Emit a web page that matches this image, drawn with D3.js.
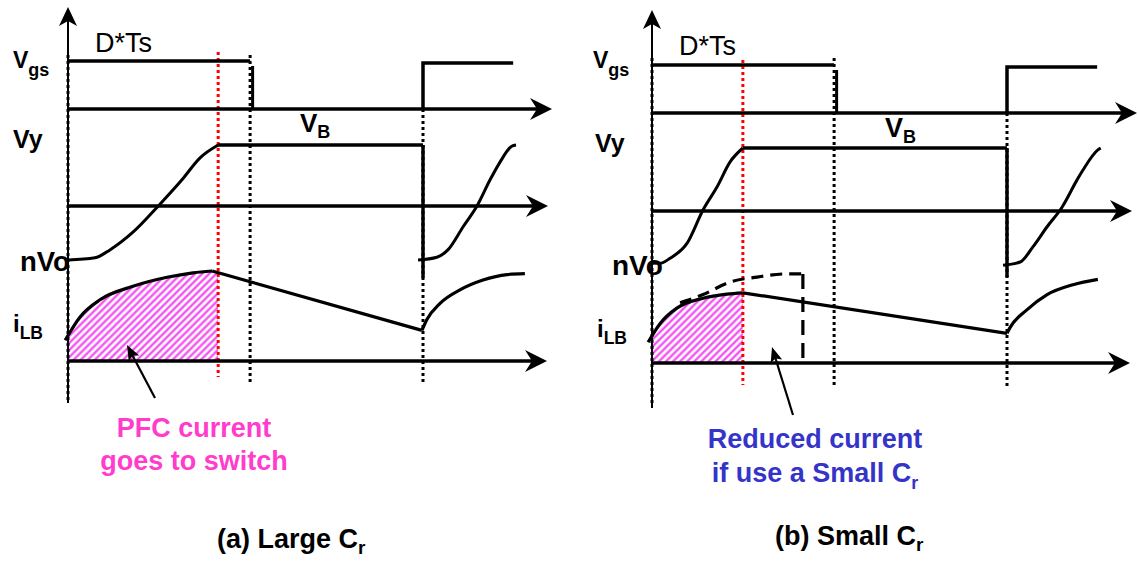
<!DOCTYPE html>
<html><head><meta charset="utf-8">
<script src="https://cdn.jsdelivr.net/npm/d3@7"></script>
<style>
body{margin:0;background:#fff}
svg{display:block}
text{font-family:"Liberation Sans",Arial,Helvetica,sans-serif}
</style>
</head><body>
<svg id="c" width="1138" height="561"></svg>
<script>
// Time runs in units where one switching period Ts = 10.
const period = 10;
const dutyEnd = 5.13;                 // gate turn-off, D*Ts
const vyClamp = [4.23, 2.56];         // instant Vy reaches VB: (a) large Cr, (b) small Cr

// Gate drive (1 = high)
const vgsA = [[0,1],[5.13,1]];
const vgsNextA = [[10,0],[10,0.96],[12.54,0.96]];
const vgsB = [[0,1],[5.13,1]];
const vgsNextB = [[10,0],[10,0.96],[12.54,0.96]];

// Vy (0 = axis, 1 = VB)
const vyRiseA = [[0,-0.885],[0.76,-0.85],[1.18,-0.72],[1.83,-0.43],[2.59,0.03],[3.21,0.43],[3.72,0.79],[4.23,1.0]];
const vyFlatA = [[4.23,1.0],[10,1.0]];
const vyDropA = [[10,1.0],[10,-1.18]];
const vyNextA = [[9.86,-0.885],[10.39,-0.84],[10.7,-0.72],[11.13,-0.34],[11.52,0],[11.89,0.43],[12.17,0.72],[12.5,0.98],[12.62,1.0]];

const vyRiseB = [[0,-0.825],[0.23,-0.83],[0.51,-0.75],[0.99,-0.51],[1.44,0.02],[1.83,0.38],[2.2,0.78],[2.56,1.0]];
const vyFlatB = [[2.56,1.0],[10,1.0]];
const vyDropB = [[10,1.0],[10,-1.05]];
const vyNextB = [[9.89,-0.86],[10.37,-0.81],[10.73,-0.57],[11.13,-0.25],[11.55,0.06],[11.97,0.49],[12.14,0.65],[12.56,0.97],[12.64,1.0]];

// Boost inductor current iLB (0 = axis)
const iRiseA = [[-0.08,0.23],[0.34,0.49],[0.9,0.68],[1.83,0.83],[2.79,0.93],[3.52,0.98],[4.06,1.0]];
const iFallA = [[4.06,1.0],[9.97,0.34]];
const iNextA = [[9.97,0.34],[10.11,0.46],[10.48,0.64],[11.04,0.79],[11.69,0.9],[12.37,0.96],[12.87,0.97]];

const iRiseB = [[-0.11,0.23],[0.23,0.44],[0.7,0.61],[1.44,0.72],[2.11,0.765],[2.56,0.78]];
const iFallB = [[2.56,0.78],[10,0.33]];
const iNextB = [[10,0.33],[10.08,0.39],[10.56,0.59],[11.13,0.76],[11.86,0.87],[12.56,0.93]];
// large-Cr current repeated in (b) for reference, ending at 4.25
const iLargeCrB = [[0.79,0.67],[1.44,0.76],[2.2,0.9],[2.96,0.955],[3.8,0.99],[4.25,0.99]];

const svg = d3.select('#c');
const defs = svg.append('defs');

// magenta hatch for the current that flows into the switch
const pat = defs.append('pattern').attr('id','hatch')
  .attr('patternUnits','userSpaceOnUse').attr('width',5).attr('height',5)
  .attr('patternTransform','rotate(45)');
pat.append('rect').attr('width',5).attr('height',5).attr('fill','#fff');
pat.append('line').attr('x1',1.5).attr('y1',0).attr('x2',1.5).attr('y2',5)
  .attr('stroke','#f23cf2').attr('stroke-width',2.1);

const panels = [
  {
    x0:68, periodPx:355, yTop:7, yBottom:403,
    vgsHi:61, vgsLo:109, vyZero:206, vyTop:145, iZero:361, iTop:271,
    axisEnd:[552,548,547], dotTop:55, redTop:52, redBottom:377, dotBottom:382,
    vgs:vgsA, vgsNext:vgsNextA, vyRise:vyRiseA, vyFlat:vyFlatA, vyDrop:vyDropA, vyNext:vyNextA,
    iRise:iRiseA, iFall:iFallA, iNext:iNextA, clamp:vyClamp[0],
    labels:{vgs:[13,68], dts:[95,52], vb:[300,132], vy:[13,148], nvo:[20,271], ilb:[13,332], nvoSize:27.5, vbSize:26},
    arrow:{from:[155,398], to:[127,345]}
  },
  {
    x0:652, periodPx:355, yTop:10, yBottom:408,
    vgsHi:65, vgsLo:113, vyZero:211, vyTop:148, iZero:363, iTop:273,
    axisEnd:[1137,1132,1130], dotTop:58, redTop:60, redBottom:385, dotBottom:387,
    vgs:vgsB, vgsNext:vgsNextB, vyRise:vyRiseB, vyFlat:vyFlatB, vyDrop:vyDropB, vyNext:vyNextB,
    iRise:iRiseB, iFall:iFallB, iNext:iNextB, clamp:vyClamp[1], dashed:iLargeCrB,
    labels:{vgs:[593,68], dts:[679,55], vb:[885,137], vy:[595,152], nvo:[612,275], ilb:[597,337], nvoSize:28, vbSize:27},
    arrow:{from:[793,415], to:[772,347]}
  }
];

function arrowHead(g, tipX, tipY, angle, len, half, notch){
  g.append('path')
    .attr('d',`M0,0L${-len},${-half}L${-len+notch},0L${-len},${half}Z`)
    .attr('transform',`translate(${tipX},${tipY}) rotate(${angle})`)
    .attr('fill','#000');
}

function drawPanel(p, k){
  const g = svg.append('g');
  const x = d3.scaleLinear().domain([0,period]).range([p.x0, p.x0+p.periodPx]);
  const yG = d3.scaleLinear().domain([0,1]).range([p.vgsLo, p.vgsHi]);
  const yV = d3.scaleLinear().domain([0,1]).range([p.vyZero, p.vyTop]);
  const yI = d3.scaleLinear().domain([0,1]).range([p.iZero, p.iTop]);

  // hatched area under iLB up to the clamp instant
  const f0 = p.iFall[0], f1 = p.iFall[1];
  const fallAt = t => f0[1] + (f1[1]-f0[1])*(t-f0[0])/(f1[0]-f0[0]);
  const areaPts = p.iRise.slice();
  if (p.clamp > areaPts[areaPts.length-1][0]) areaPts.push([p.clamp, fallAt(p.clamp)]);
  const clipId = 'clip'+k;
  defs.append('clipPath').attr('id',clipId).append('rect')
    .attr('x',x(0)).attr('y',0).attr('width',x(p.clamp)-x(0)).attr('height',561);
  g.append('path').datum(areaPts)
    .attr('d', d3.area().x(d=>x(d[0])).y0(yI(0)).y1(d=>yI(d[1])).curve(d3.curveMonotoneX))
    .attr('fill','url(#hatch)').attr('clip-path',`url(#${clipId})`);

  const dotted = (t, y1, y2, color) => g.append('line')
    .attr('x1',x(t)).attr('x2',x(t)).attr('y1',y1).attr('y2',y2)
    .attr('stroke',color).attr('stroke-width',3).attr('stroke-dasharray','3,3');

  // vertical axis
  dotted(0, p.dotTop, p.yBottom-3, '#000');
  g.append('line').attr('x1',x(0)).attr('x2',x(0)).attr('y1',p.yTop+8).attr('y2',p.yBottom)
    .attr('stroke','#000').attr('stroke-width',2);
  arrowHead(g, x(0), p.yTop, -90, 19, 9, 5);

  // time markers
  dotted(dutyEnd, p.dotTop, p.dotBottom, '#000');
  dotted(period, p.vgsLo, p.dotBottom+1, '#000');
  dotted(p.clamp, p.redTop, p.redBottom, '#f00');

  // horizontal axes
  [[p.vgsLo,p.axisEnd[0]],[p.vyZero,p.axisEnd[1]],[p.iZero,p.axisEnd[2]]].forEach(([yy,xe])=>{
    g.append('line').attr('x1',x(0)).attr('x2',xe-12).attr('y1',yy).attr('y2',yy)
      .attr('stroke','#000').attr('stroke-width',3.5);
    arrowHead(g, xe, yy, 0, 22, 11, 7);
  });

  const lin = (data, sy, w, curve) => g.append('path').datum(data)
    .attr('d', d3.line().x(d=>x(d[0])).y(d=>sy(d[1])).curve(curve||d3.curveLinear))
    .attr('fill','none').attr('stroke','#000').attr('stroke-width',w)
    .attr('stroke-linejoin','miter');

  // gate drive
  lin(p.vgs, yG, 3.5);
  g.append('line').attr('x1',x(dutyEnd)+2.5).attr('x2',x(dutyEnd)+2.5)
    .attr('y1',yG(1)+5).attr('y2',yG(0)).attr('stroke','#000').attr('stroke-width',3);
  lin(p.vgsNext, yG, 3.5);

  // Vy
  lin(p.vyRise, yV, 3, d3.curveMonotoneX);
  lin(p.vyFlat, yV, 3.5);
  lin(p.vyDrop, yV, 3.5);
  lin(p.vyNext, yV, 3, d3.curveMonotoneX);

  // iLB
  lin(p.iRise, yI, 3.2, d3.curveMonotoneX);
  lin(p.iFall, yI, 3.2);
  lin(p.iNext, yI, 3.2, d3.curveMonotoneX);
  if (p.dashed){
    lin(p.dashed, yI, 3.2, d3.curveMonotoneX).attr('stroke-dasharray','12,7');
    const last = p.dashed[p.dashed.length-1];
    g.append('line').attr('x1',x(last[0])).attr('x2',x(last[0]))
      .attr('y1',yI(last[1])).attr('y2',yI(0))
      .attr('stroke','#000').attr('stroke-width',3.2).attr('stroke-dasharray','15,8');
  }

  // annotation arrow
  const a = p.arrow;
  const ang = Math.atan2(a.to[1]-a.from[1], a.to[0]-a.from[0])*180/Math.PI;
  g.append('line').attr('x1',a.from[0]).attr('y1',a.from[1])
    .attr('x2',a.to[0]+ (a.from[0]-a.to[0])*0.15).attr('y2',a.to[1]+(a.from[1]-a.to[1])*0.15)
    .attr('stroke','#000').attr('stroke-width',2.2);
  arrowHead(g, a.to[0], a.to[1], ang, 15, 6, 3);

  // signal labels
  const L = p.labels;
  const lab = (pos, main, size, sub, subSize, dy, weight) => {
    const t = g.append('text').attr('x',pos[0]).attr('y',pos[1])
      .attr('font-size',size).attr('font-weight',weight||'bold').attr('fill','#000').text(main);
    if (sub) t.append('tspan').attr('font-size',subSize).attr('dy',dy).text(sub);
    return t;
  };
  lab(L.vgs, 'V', 23, 'gs', 18, 8);
  lab(L.dts, 'D*Ts', 27, null, 0, 0, 'normal');
  lab(L.vb, 'V', L.vbSize, 'B', 18, 6);
  lab(L.vy, 'Vy', 25);
  lab(L.nvo, 'nVo', L.nvoSize);
  lab(L.ilb, 'i', 24, 'LB', 17.5, 7);
}

panels.forEach(drawPanel);

// notes and captions
const note = (xc, ys, lines, color) => lines.forEach((ln,i)=>{
  const t = svg.append('text').attr('x',xc).attr('y',ys[i]).attr('text-anchor','middle')
    .attr('font-size',27).attr('font-weight','bold').attr('fill',color).text(ln[0]);
  if (ln[1]) t.append('tspan').attr('font-size',18).attr('dy',7).text(ln[1]);
});
note(194, [437,470], [['PFC current'],['goes to switch']], '#ff3ccc');
note(815, [448,482], [['Reduced current'],['if use a Small C','r']], '#3434c8');

const caption = (x0, y0, main) => {
  const t = svg.append('text').attr('x',x0).attr('y',y0)
    .attr('font-size',27).attr('font-weight','bold').attr('fill','#000').text(main);
  t.append('tspan').attr('font-size',19).attr('dy',6).text('r');
};
caption(217, 548, '(a) Large C');
caption(775, 545, '(b) Small C');
</script>
</body></html>
